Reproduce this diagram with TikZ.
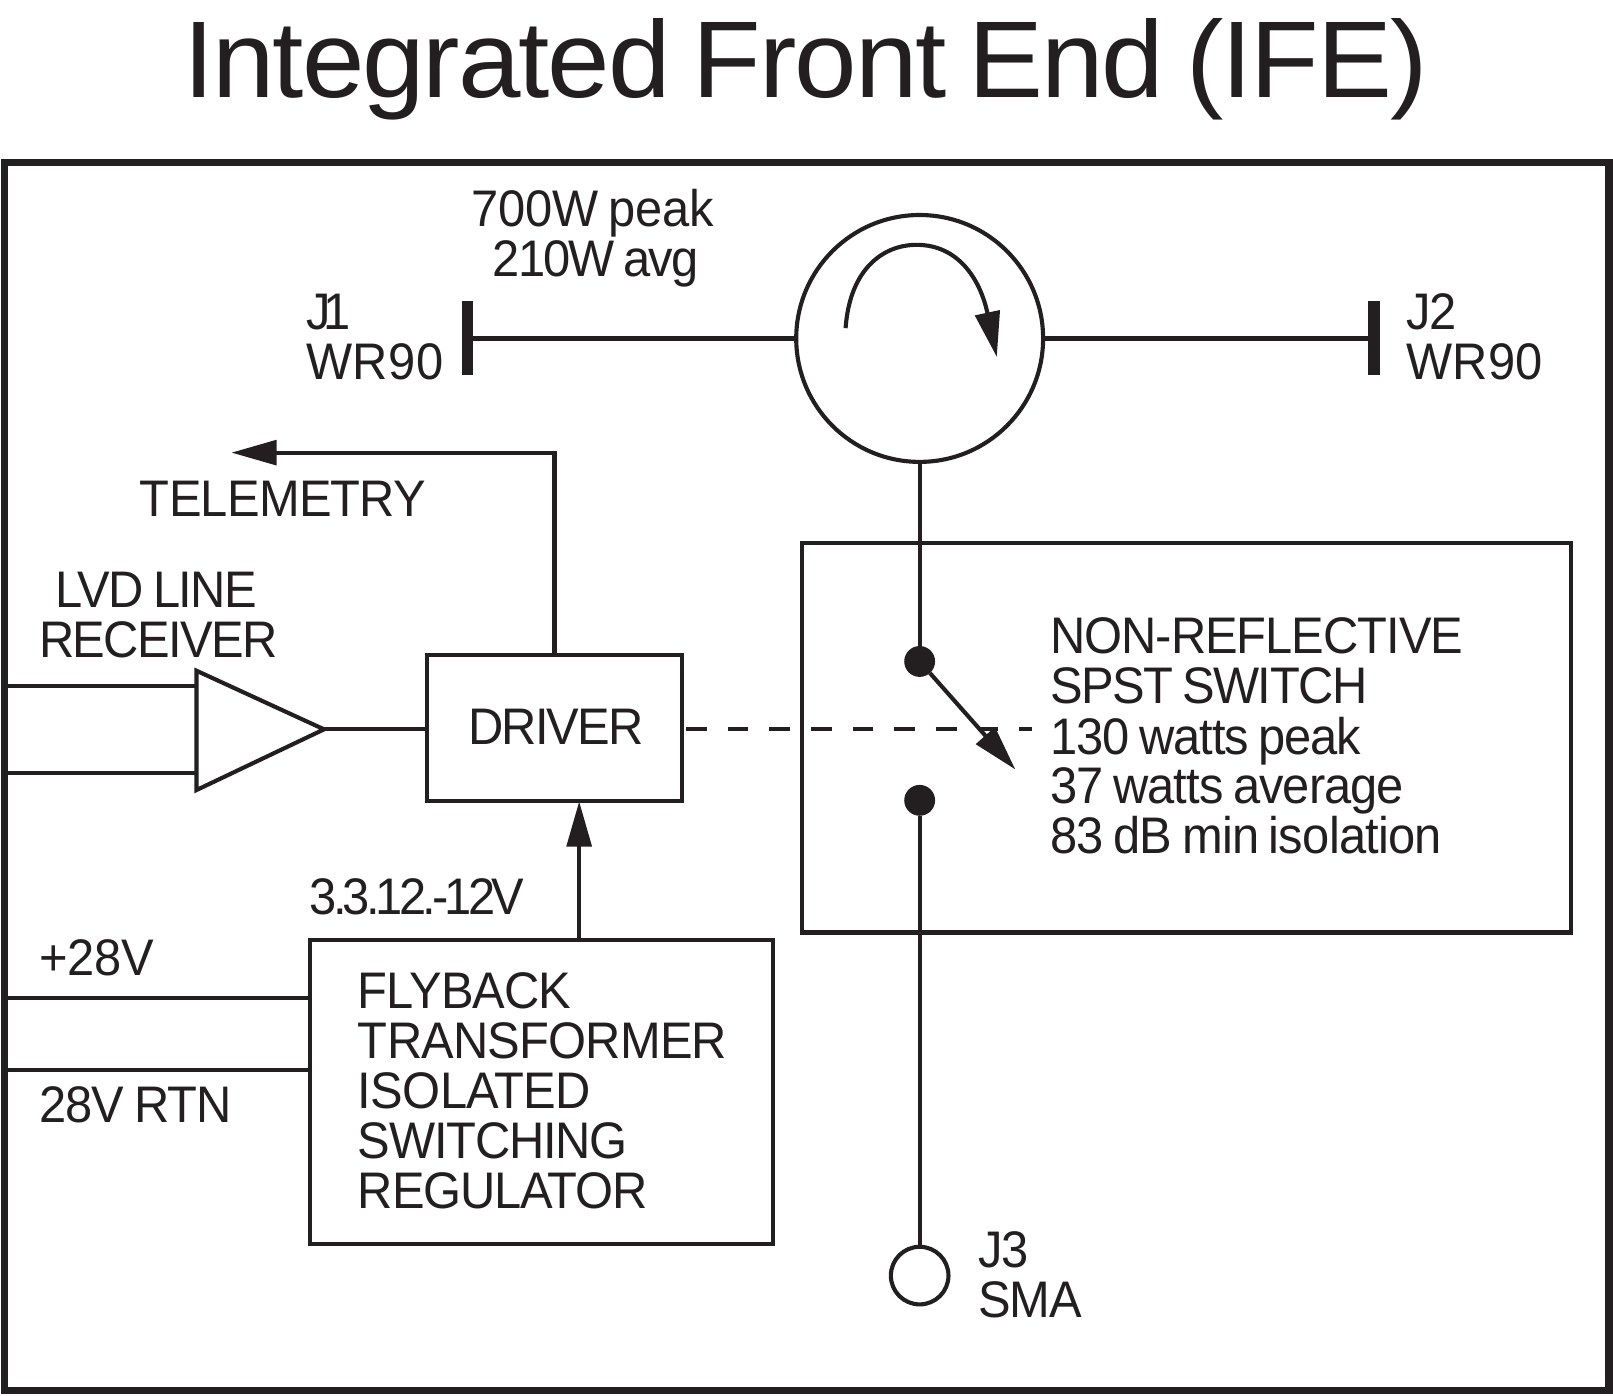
\documentclass[tikz,border=0pt]{standalone}
\usepackage{fontspec}
\usetikzlibrary{arrows.meta}
\setmainfont[FakeStretch=0.95,LetterSpace=-2.4,WordSpace=0.75]{Liberation Sans}
\newfontfamily\titlefont[FakeStretch=1.03,LetterSpace=-1.85,WordSpace=0.75]{Liberation Sans}
\definecolor{ink}{HTML}{231F20}
\tikzset{
  wire/.style={draw=ink,line width=4pt},
  tip/.style={-{Triangle[length=44pt,width=24pt]}},
  boxnode/.style={draw=ink,line width=4pt,rectangle,inner sep=0pt,outer sep=0pt,anchor=north west},
  dotnode/.style={circle,fill=ink,inner sep=0pt,outer sep=0pt,minimum size=30pt},
  ringnode/.style={circle,draw=ink,line width=4pt,inner sep=0pt,outer sep=0pt},
  label/.style={inner sep=0pt,outer sep=0pt,anchor=base west,text=ink,align=left,font=\fontsize{50}{48.7}\selectfont},
  track/.style={font=\fontsize{50}{48.7}\selectfont\addfontfeature{LetterSpace=#1}},
  portbar/.style={fill=ink,inner sep=0pt,outer sep=0pt,minimum width=11pt,minimum height=72pt,rectangle},
}
\begin{document}
\begin{tikzpicture}[x=1pt,y=-1pt,line join=miter]
\useasboundingbox (0,0) rectangle (1568,1357);
% title
\node[label,font=\fontsize{106}{106}\selectfont\titlefont] (title) at (178,95) {Integrated Front End (IFE)};
% outer frame
\node[boxnode,line width=7pt,minimum width=1560pt,minimum height=1194pt] (frame) at (4,158) {};
% circulator and ports
\node[ringnode,minimum size=240pt] (circ) at (894,329) {};
\node[portbar] (j1) at (454.5,329) {};
\node[portbar] (j2) at (1335.5,329) {};
\draw[wire] (j1) -- (circ);
\draw[wire] (circ) -- (j2);
\coordinate (arcs) at (822,319);
\coordinate (arct) at (969,347);
\draw[wire,tip] (arcs) .. controls (826,262) and (858,238) .. (891,238) .. controls (932,238) and (953,272) .. (arct);
\node[label,track=-0.4] (pw) at (458,220) {700W peak};
\node[label,track=-3.6] (pw2) at (479,269) {210W avg};
\node[label,track=-14] (j1a) at (298,320) {J1};
\node[label,track=0.6] (j1b) at (298,369) {WR90};
\node[label] (j2a) at (1367,320) {J2};
\node[label,track=0.6] (j2b) at (1367,369) {WR90};
% switch
\node[boxnode,minimum width=747pt,minimum height=379pt] (sw) at (780,527.5) {};
\node[dotnode] (d1) at (894,643) {};
\node[dotnode] (d2) at (894,778) {};
\node[ringnode,minimum size=56pt] (j3) at (894,1240) {};
\draw[wire] (circ) -- (d1);
\draw[wire] (d2) -- (j3);
\coordinate (armend) at (987,748);
\draw[wire,tip] (d1) -- (armend);
\node[label,track=-2] (swa) at (1021,635) {NON-REFLECTIVE};
\node[label,track=-3] (swb) at (1021,684) {SPST SWITCH};
\node[label,track=-2] (swc) at (1021,733) {130 watts peak};
\node[label,track=-1.8] (swd) at (1021,781) {37 watts average};
\node[label,track=-1.5] (swe) at (1021,830) {83 dB min isolation};
\node[label] (j3a) at (951,1232) {J3};
\node[label] (j3b) at (951,1281) {SMA};
% driver
\node[boxnode,minimum width=248pt,minimum height=142pt] (driver) at (415,636.5) {};
\node[label,track=-3.4] (drvt) at (455,724) {DRIVER};
\coordinate (telend) at (225,440);
\draw[wire,tip] (driver.north) |- (telend);
\node[label,track=-1.5] (tel) at (136,502) {TELEMETRY};
\coordinate (dashstart) at (667,709);
\coordinate (dashend) at (1003,709);
\draw[wire,dash pattern=on 20pt off 20.5pt] (dashstart) -- (dashend);
% receiver
\coordinate (ta) at (191,652);
\coordinate (tb) at (191,768);
\coordinate (tc) at (315,709);
\draw[wire] (ta) -- (tc) -- (tb) -- cycle;
\coordinate (in1) at (7,667);
\coordinate (in2) at (7,751);
\draw[wire] (in1) -- (in1 -| ta);
\draw[wire] (in2) -- (in2 -| ta);
\draw[wire] (tc) -- (tc -| driver.west);
\node[label,track=-2.9] (lvd) at (54,591) {LVD LINE};
\node[label,track=-3.2] (rcv) at (38,639) {RECEIVER};
% regulator
\node[boxnode,minimum width=450pt,minimum height=295pt] (reg) at (301,914) {};
\coordinate (rega) at (563,914);
\coordinate (dra) at (563,779);
\draw[wire,tip] (rega) -- (dra);
\node[label,track=-7.4] (volts) at (301,889) {3.3.12.-12V};
\coordinate (p1) at (7,970);
\coordinate (p2) at (7,1040);
\draw[wire] (p1) -- (p1 -| reg.west);
\draw[wire] (p2) -- (p2 -| reg.west);
\node[label,track=0] (v28) at (38,948) {+28V};
\node[label,track=-1.5] (rtn) at (38,1091) {28V RTN};
\node[label,track=-1.9] (fa) at (348,980) {FLYBACK};
\node[label,track=-1.6] (fb) at (348,1029) {TRANSFORMER};
\node[label,track=-1.4] (fc) at (348,1078) {ISOLATED};
\node[label] (fd) at (348,1126) {SWITCHING};
\node[label] (fe) at (348,1175) {REGULATOR};
\end{tikzpicture}
\end{document}
